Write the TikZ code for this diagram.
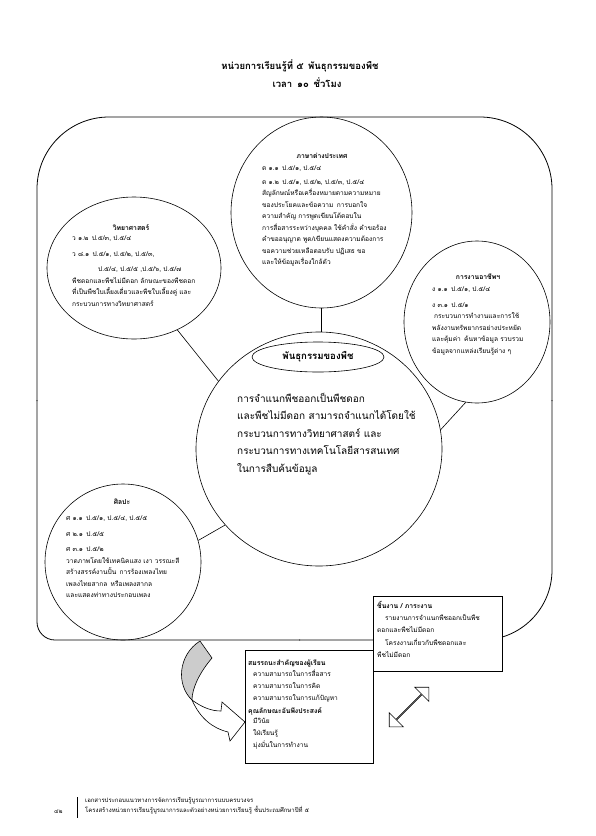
\documentclass[tikz,border=0pt]{standalone}
\usepackage{fontspec}
\newfontfamily\thai[Script=Thai]{Loma}
\usetikzlibrary{shapes.geometric,shapes.arrows}
\begin{document}
\begin{tikzpicture}[x=1pt,y=-1pt,
  circ/.style={draw, ellipse, inner sep=0pt, line width=0.6pt},
  body/.style={font=\thai\fontsize{6.6}{11.5}\selectfont, align=left, anchor=north west, inner sep=0pt},
  head/.style={font=\thai\bfseries\fontsize{6.8}{8}\selectfont, inner sep=0pt},
  big/.style={font=\thai\fontsize{10}{17.4}\selectfont, align=left, anchor=north west, inner sep=0pt},
  ttl/.style={font=\thai\bfseries\fontsize{9.5}{12}\selectfont, inner sep=0pt},
  boxx/.style={draw, fill=white, line width=0.8pt, inner sep=0pt, anchor=north west},
  conn/.style={line width=0.6pt},
  foot/.style={font=\thai\fontsize{6}{10}\selectfont, align=left, anchor=north west, inner sep=0pt}]
\useasboundingbox (0,0) rectangle (595,836);

% title
\node[ttl] (t1) at (300,66) {หน่วยการเรียนรู้ที่ ๕\enspace พันธุกรรมของพืช};
\node[ttl] (t2) at (307,83) {เวลา\enspace ๑๐\enspace ชั่วโมง};

% outer frame
\draw[line width=0.8pt, rounded corners=72pt] (37,401) -- (37,117) -- (552,117) -- (552,401);
\draw[line width=0.8pt, rounded corners=70pt] (552,400) -- (552,640) -- (299,640);
\draw[line width=0.8pt, rounded corners=18pt] (300,640) -- (37,640) -- (37,400);

% circles
\node[circ, minimum width=181pt, minimum height=191pt] (top) at (321.5,212.5) {};
\node[circ, minimum width=174pt, minimum height=142pt] (left) at (134,268) {};
\node[circ, minimum width=146pt, minimum height=162pt] (right) at (477,322) {};
\node[circ, minimum width=246pt, minimum height=234pt] (bigc) at (319,449) {};
\node[circ, minimum width=156pt, minimum height=156pt] (art) at (123,562) {};
\node[circ, minimum width=132pt, minimum height=30pt, font=\thai\bfseries\fontsize{9.6}{11}\selectfont] (core) at (318,357) {พันธุกรรมของพืช};

% connectors
\draw[conn] (top.south) -- (top.south |- bigc.north);
\draw[conn] (left.-55) -- (bigc.146);
\draw[conn] (right.-98) -- (bigc.9);
\draw[conn] (art.16) -- (bigc.219);

% top circle text
\node[head] (toph) at (322,156) {ภาษาต่างประเทศ};
\node[body] (topb) at (262,166) {ต ๑.๑\enspace ป.๕/๑, ป.๕/๔\\[2pt]
ต ๑.๒\enspace ป.๕/๑, ป.๕/๒, ป.๕/๓, ป.๕/๔\\
สัญลักษณ์หรือเครื่องหมายตามความหมาย\\
ของประโยคและข้อความ\enspace การบอกใจ\\
ความสำคัญ การพูดเขียนโต้ตอบใน\\
การสื่อสารระหว่างบุคคล ใช้คำสั่ง คำขอร้อง\\
คำขออนุญาต พูด/เขียนแสดงความต้องการ\\
ขอความช่วยเหลือตอบรับ ปฏิเสธ ขอ\\
และให้ข้อมูลเรื่องใกล้ตัว};

% left circle text
\node[head] (lefth) at (131,228) {วิทยาศาสตร์};
\node[body] (leftb) at (72,236) {ว ๑.๒\enspace ป.๕/๓, ป.๕/๔\\[4pt]
ว ๘.๑\enspace ป.๕/๑, ป.๕/๒, ป.๕/๓,\\[4pt]
\hspace*{26pt}ป.๕/๔, ป.๕/๕ ,ป.๕/๖, ป.๕/๗\\
พืชดอกและพืชไม่มีดอก ลักษณะของพืชดอก\\
ที่เป็นพืชใบเลี้ยงเดี่ยวและพืชใบเลี้ยงคู่ และ\\
กระบวนการทางวิทยาศาสตร์};

% right circle text
\node[head] (righth) at (478,277) {การงานอาชีพฯ};
\node[body] (rightb) at (432,287) {ง ๑.๑\enspace ป.๕/๑, ป.๕/๔\\[4pt]
ง ๓.๑\enspace ป.๕/๑\\
\hspace*{2pt}กระบวนการทำงานและการใช้\\
พลังงานทรัพยากรอย่างประหยัด\\
และคุ้มค่า\enspace ค้นหาข้อมูล รวบรวม\\
ข้อมูลจากแหล่งเรียนรู้ต่าง ๆ};

% big circle text
\node[big] (bigt) at (237,393) {การจำแนกพืชออกเป็นพืชดอก\\
และพืชไม่มีดอก สามารถจำแนกได้โดยใช้\\
กระบวนการทางวิทยาศาสตร์ และ\\
กระบวนการทางเทคโนโลยีสารสนเทศ\\
ในการสืบค้นข้อมูล};

% art circle text
\node[head] (arth) at (122,502) {ศิลปะ};
\node[body] (artb) at (66,516) {ศ ๑.๑\enspace ป.๕/๑, ป.๕/๔, ป.๕/๕\\[4pt]
ศ ๒.๑\enspace ป.๕/๕\\[4pt]
ศ ๓.๑\enspace ป.๕/๒\\
วาดภาพโดยใช้เทคนิคแสง เงา วรรณะสี\\
สร้างสรรค์งานปั้น\enspace การร้องเพลงไทย\\
เพลงไทยสากล\enspace หรือเพลงสากล\\
และแสดงท่าทางประกอบเพลง};

% curved arrow
\draw[fill=gray!40, line width=0.6pt] (200,641) -- (212,658) .. controls (200,672) and (192,688) .. (192,700) .. controls (176,685) and (178,655) .. cycle;
\draw[fill=white, line width=0.6pt] (192,700) .. controls (203,708) and (212,711) .. (221,711) -- (222,702) -- (245,722) -- (230,741) -- (228,732) .. controls (212,728) and (200,718) .. (192,700) -- cycle;

% boxes
\node[boxx, minimum width=129pt, minimum height=75pt] (work) at (373,596) {};
\node[head, anchor=west] (workh) at (377,605) {ชิ้นงาน / ภาระงาน};
\node[body] (workb) at (377,614) {\hspace*{8pt}รายงานการจำแนกพืชออกเป็นพืช\\[1pt]
ดอกและพืชไม่มีดอก\\[1pt]
\hspace*{8pt}โครงงานเกี่ยวกับพืชดอกและ\\[1pt]
พืชไม่มีดอก};

\node[boxx, minimum width=128pt, minimum height=113pt] (comp) at (245,650) {};
\node[head, anchor=west] (comph) at (248,663) {สมรรถนะสำคัญของผู้เรียน};
\node[body] (compb) at (248,670) {\hspace*{5pt}ความสามารถในการสื่อสาร\\[0.4pt]
\hspace*{5pt}ความสามารถในการคิด\\[0.4pt]
\hspace*{5pt}ความสามารถในการแก้ปัญหา};
\node[head, anchor=west] (compq) at (248,711) {คุณลักษณะอันพึงประสงค์};
\node[body] (compc) at (248,718) {\hspace*{5pt}มีวินัย\\[0.4pt]
\hspace*{5pt}ใฝ่เรียนรู้\\[0.4pt]
\hspace*{5pt}มุ่งมั่นในการทำงาน};

% double arrow
\node[double arrow, draw, fill=white, line width=0.6pt, rotate=45, minimum height=56pt, minimum width=20pt, double arrow head extend=5.5pt, inner sep=0pt] (dbl) at (409,707) {};

% footer
\node[foot, anchor=west] (pg) at (54,812) {๔๒};
\coordinate (fl1) at (77,797);
\coordinate (fl2) at (77,818);
\draw[line width=0.5pt] (fl1) -- (fl2);
\node[foot] (ft) at (85,797) {เอกสารประกอบแนวทางการจัดการเรียนรู้บูรณาการแบบครบวงจร\\
โครงสร้างหน่วยการเรียนรู้บูรณาการและตัวอย่างหน่วยการเรียนรู้ ชั้นประถมศึกษาปีที่ ๕};
\end{tikzpicture}
\end{document}
